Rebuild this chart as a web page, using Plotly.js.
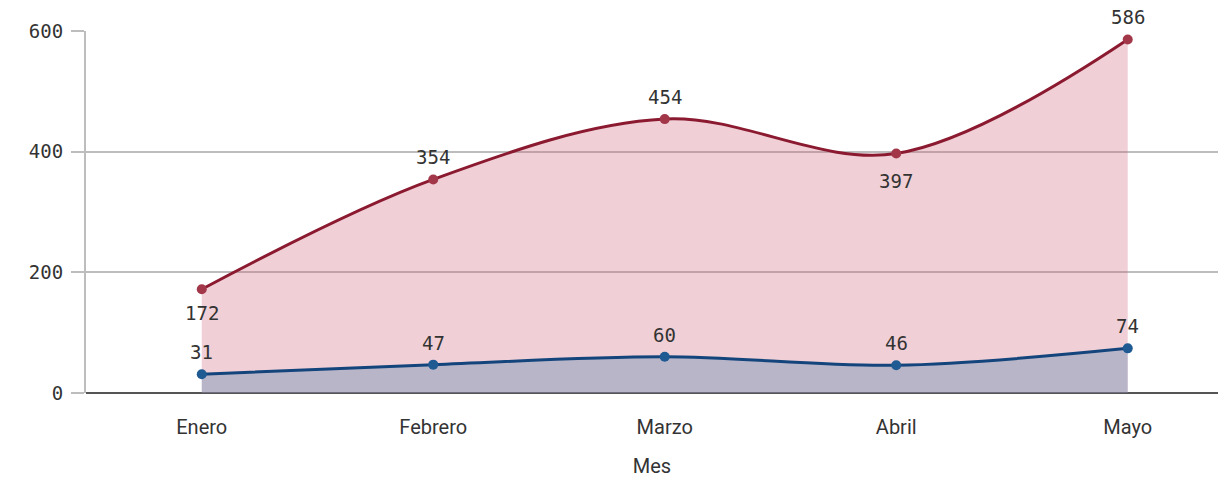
<!DOCTYPE html>
<html>
<head>
<meta charset="utf-8">
<script src="https://cdn.plot.ly/plotly-3.0.1.min.js"></script>
<style>html,body{margin:0;padding:0;background:#fff;}#chart{width:1228px;height:478px;}</style>
</head>
<body>
<div id="chart"></div>
<script>
const meses = ["Enero", "Febrero", "Marzo", "Abril", "Mayo"];
const serieRoja = [172, 354, 454, 397, 586];
const serieAzul = [31, 47, 60, 46, 74];
const posRoja = ["below", "above", "above", "below2", "above"];
const posAzul = ["above", "above", "above", "above", "above"];
const yTicks = [0, 200, 400, 600];

const mono = "DejaVu Sans Mono, monospace";
const sans = "Roboto, sans-serif";

const traces = [
  {
    x: meses, y: serieRoja, type: "scatter", mode: "lines+markers",
    fill: "tozeroy", fillcolor: "rgba(205,98,118,0.3)",
    line: {color: "#8b1a30", width: 3, shape: "spline", smoothing: 1},
    marker: {color: "#a3374a", size: 10},
    cliponaxis: false, hoverinfo: "skip"
  },
  {
    x: meses, y: serieAzul, type: "scatter", mode: "lines+markers",
    fill: "tozeroy", fillcolor: "rgba(102,140,179,0.4)",
    line: {color: "#13457c", width: 3, shape: "spline", smoothing: 1},
    marker: {color: "#1f5a92", size: 10},
    cliponaxis: false, hoverinfo: "skip"
  }
];

const shifts = {above: 22, below: -24, below2: -28};
function labels(vals, pos) {
  return vals.map((v, i) => ({
    x: meses[i], y: v, text: String(v), showarrow: false,
    yshift: shifts[pos[i]],
    font: {family: mono, size: 19, color: "#333"}
  }));
}

const layout = {
  width: 1228, height: 478,
  margin: {l: 86, r: 10, t: 31, b: 85},
  paper_bgcolor: "#fff", plot_bgcolor: "#fff",
  showlegend: false,
  annotations: labels(serieRoja, posRoja).concat(labels(serieAzul, posAzul)),
  xaxis: {
    type: "category", range: [-0.5, 4.39],
    showgrid: false, showline: false, zeroline: false,
    ticks: "", ticklabelstandoff: 20,
    tickfont: {family: sans, size: 20, color: "#333"},
    title: {text: "Mes", font: {family: sans, size: 20, color: "#333"}, standoff: 20}
  },
  yaxis: {
    range: [0, 600], tickvals: yTicks, ticktext: yTicks.map(String),
    showgrid: true, gridcolor: "#bdbdbd", gridwidth: 2,
    showline: true, linecolor: "#bdbdbd", linewidth: 2,
    zeroline: true, zerolinecolor: "#555", zerolinewidth: 2,
    ticks: "outside", ticklen: 13, tickcolor: "#bdbdbd", tickwidth: 2,
    ticklabelstandoff: 4,
    tickfont: {family: mono, size: 19, color: "#333"}
  }
};

Plotly.newPlot("chart", traces, layout, {displayModeBar: false, staticPlot: true});
</script>
</body>
</html>
